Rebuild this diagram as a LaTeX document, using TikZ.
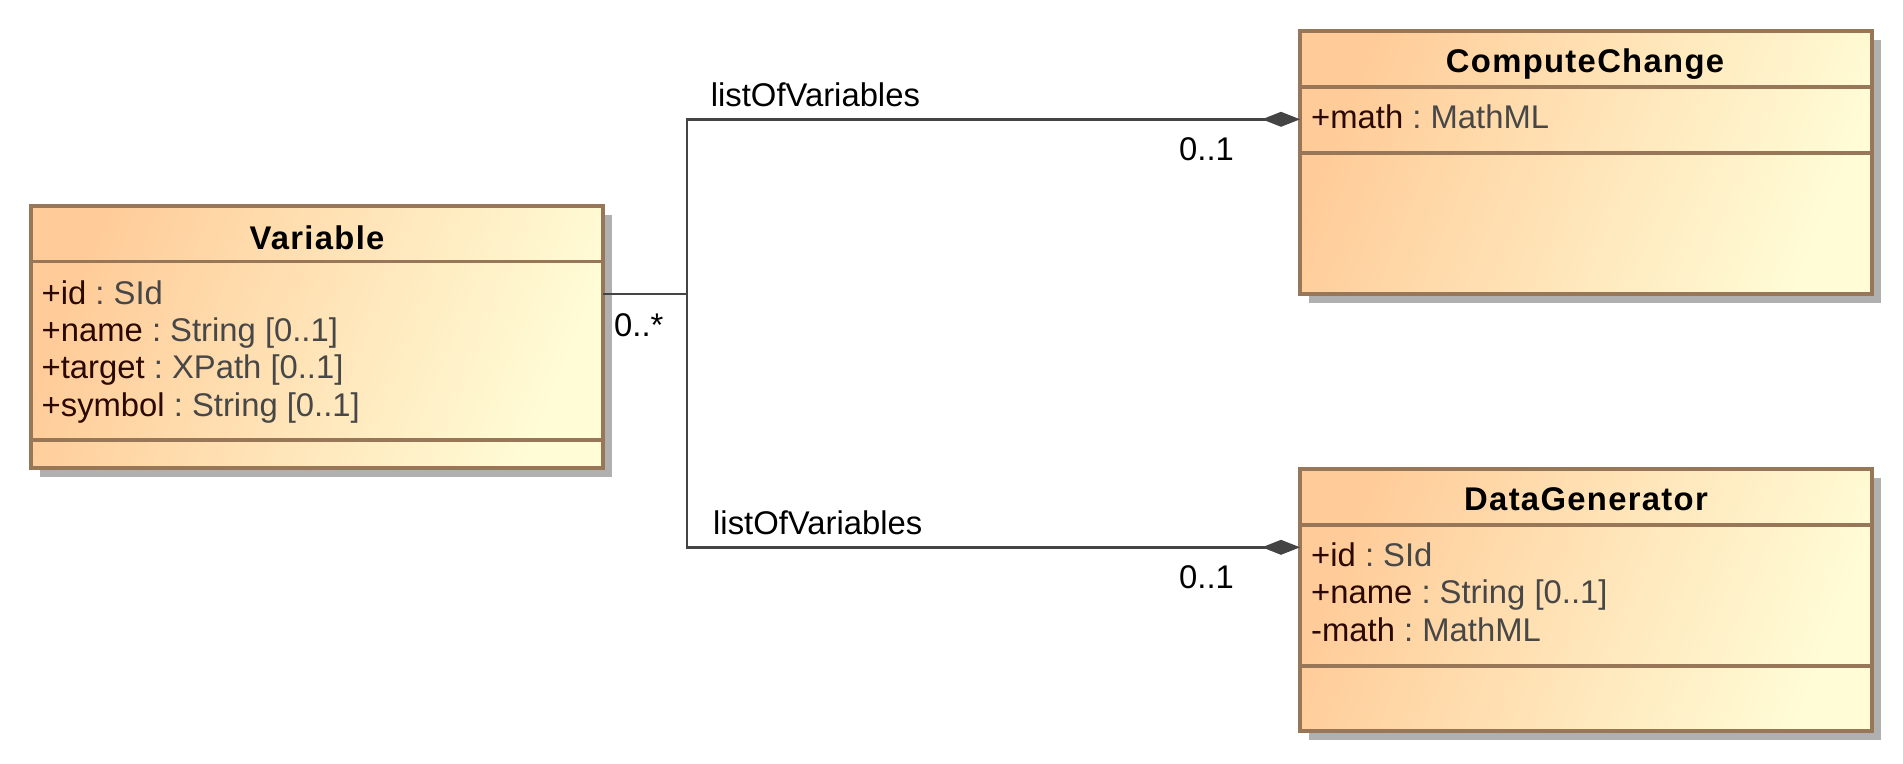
\documentclass[tikz,border=0pt]{standalone}
\usepackage{fontspec}
\setmainfont{Liberation Sans}
\usetikzlibrary{arrows.meta,shadows,calc}
\definecolor{boxorange}{HTML}{FFCC99}
\definecolor{boxyellow}{HTML}{FFFCD6}
\definecolor{boxborder}{HTML}{987658}
\definecolor{shadowgray}{HTML}{B0B0B0}
\definecolor{linegray}{HTML}{444444}
\definecolor{attrname}{HTML}{2B0800}
\definecolor{attrtype}{HTML}{474747}
\newcommand{\attr}[2]{\textcolor{attrname}{#1}\textcolor{attrtype}{\ :\ #2}}
\begin{document}
\begin{tikzpicture}[x=1pt,y=-1pt,
  classbox/.style={draw=boxborder, line width=3.1pt, inner sep=0pt, outer sep=0pt,
    left color=boxorange, right color=boxyellow, shading angle=68,
    minimum width=572pt, anchor=north west,
    drop shadow={shadow xshift=9pt, shadow yshift=-9pt, fill=shadowgray, opacity=1}},
  sepline/.style={draw=boxborder, line width=3.1pt},
  titletext/.style={inner sep=0pt, anchor=base, font=\fontsize{32.8}{37.5}\selectfont\bfseries\addfontfeatures{LetterSpace=4}},
  attrtext/.style={inner sep=0pt, anchor=base west, font=\fontsize{32.8}{37.5}\selectfont},
  lbl/.style={inner sep=0pt, anchor=base west, text=black, font=\fontsize{32.8}{37.5}\selectfont},
  conn/.style={draw=linegray, line width=2.7pt},
  compo/.style={conn, -{Diamond[length=38pt,width=15pt,fill=linegray]}}
]
\useasboundingbox (0,0) rectangle (1903,763);

% classes
\node[classbox, minimum height=262pt] (var) at (31,206) {};
\node[classbox, minimum height=263pt] (cc) at (1300,31) {};
\node[classbox, minimum height=262pt] (dg) at (1300,469) {};

% compartments
\draw[sepline] ($(var.north west)+(0,55.5)$) -- ($(var.north east)+(0,55.5)$);
\draw[sepline] ($(var.north west)+(0,234)$) -- ($(var.north east)+(0,234)$);
\draw[sepline] ($(cc.north west)+(0,56)$) -- ($(cc.north east)+(0,56)$);
\draw[sepline] ($(cc.north west)+(0,122)$) -- ($(cc.north east)+(0,122)$);
\draw[sepline] ($(dg.north west)+(0,56)$) -- ($(dg.north east)+(0,56)$);
\draw[sepline] ($(dg.north west)+(0,197)$) -- ($(dg.north east)+(0,197)$);

% titles
\node[titletext] (vart) at (317,249) {Variable};
\node[titletext] (cct) at (1585,72.7) {ComputeChange};
\node[titletext] (dgt) at (1586,510.7) {DataGenerator};

% attributes
\node[attrtext] (va1) at (41.5,304.3) {\attr{+id}{SId}};
\node[attrtext] (va2) at (41.5,341.7) {\attr{+name}{String [0..1]}};
\node[attrtext] (va3) at (41.5,378.8) {\attr{+target}{XPath [0..1]}};
\node[attrtext] (va4) at (41.5,416) {\attr{+symbol}{String [0..1]}};
\node[attrtext] (cca1) at (1311,128.3) {\attr{+math}{MathML}};
\node[attrtext] (dga1) at (1311,566.7) {\attr{+id}{SId}};
\node[attrtext] (dga2) at (1311,603.8) {\attr{+name}{String [0..1]}};
\node[attrtext] (dga3) at (1311,641.2) {\attr{-math}{MathML}};

% connectors
\coordinate (vport) at ($(var.north east)+(0,88)$);
\coordinate (split) at (687,294);
\coordinate (ccport) at ($(cc.north west)+(0,88.3)$);
\coordinate (dgport) at ($(dg.north west)+(0,78.3)$);
\draw[conn] (vport) -- (split);
\draw[compo] (split) |- (ccport);
\draw[compo] (split) |- (dgport);

% labels
\node[lbl] (l1) at (710.7,106.7) {listOfVariables};
\node[lbl] (l2) at (713,534.7) {listOfVariables};
\node[lbl] (m1) at (1179,160.7) {0..1};
\node[lbl] (m2) at (1179,588.3) {0..1};
\node[lbl] (m3) at (614,336.7) {0..*};
\end{tikzpicture}
\end{document}
